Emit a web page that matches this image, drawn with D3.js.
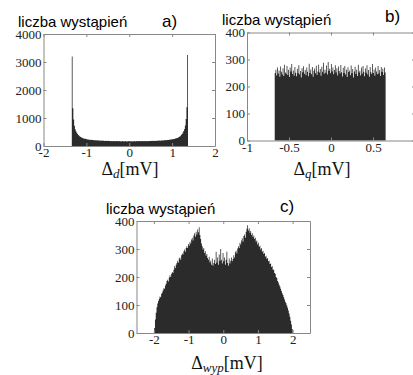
<!DOCTYPE html>
<html>
<head>
<meta charset="utf-8">
<script src="https://cdn.jsdelivr.net/npm/d3@7"></script>
<style>
  body { margin: 0; background: #fff; }
  svg { display: block; }
</style>
</head>
<body>
<div id="chart"></div>
<script>
// a) histogram of delta_d, counts per bin over aBinRange
const aBinRange = [-1.34, 1.37];
const aCounts = [
  3200, 1350, 950, 720, 600, 530, 470, 430, 395, 365,
  340, 325, 302, 295, 278, 272, 259, 257, 246, 243,
  235, 233, 226, 224, 215, 219, 210, 214, 205, 208,
  201, 206, 195, 201, 192, 198, 189, 195, 186, 193,
  184, 190, 181, 188, 178, 186, 176, 184, 175, 182,
  172, 181, 170, 180, 169, 178, 168, 179, 167, 177,
  166, 176, 165, 177, 164, 175, 166, 174, 163, 176,
  165, 173, 164, 175, 166, 172, 163, 176, 165, 174,
  166, 177, 165, 175, 167, 178, 166, 176, 168, 177,
  167, 178, 169, 177, 168, 179, 170, 180, 171, 181,
  175, 183, 176, 185, 178, 187, 180, 189, 182, 191,
  184, 193, 187, 196, 190, 199, 194, 203, 198, 207,
  202, 211, 207, 216, 212, 222, 219, 228, 229, 238,
  239, 250, 252, 264, 268, 283, 290, 306, 320, 342,
  368, 398, 432, 478, 535, 610, 730, 960, 1380, 3250
];
const aXTicks = [-2, -1, 0, 1, 2];
const aYTicks = [0, 1000, 2000, 3000, 4000];

// b) histogram of delta_q
const bBinRange = [-0.67, 0.65];
const bCounts = [
  250, 262, 241, 270, 248, 259, 236, 274, 255, 244,
  268, 239, 281, 252, 247, 276, 243, 262, 235, 270,
  256, 283, 246, 259, 240, 272, 251, 238, 266, 249,
  279, 244, 257, 233, 268, 253, 275, 247, 261, 242,
  270, 255, 238, 284, 250, 263, 245, 272, 236, 258,
  267, 249, 277, 243, 256, 281, 252, 265, 240, 273,
  255, 288, 247, 262, 251, 278, 244, 291, 258, 266,
  249, 283, 256, 270, 245, 261, 279, 252, 268, 241,
  274, 257, 248, 280, 253, 237, 269, 250, 276, 244,
  262, 235, 271, 254, 259, 242, 278, 249, 265, 233,
  256, 273, 246, 262, 239, 281, 252, 258, 241, 270,
  247, 276, 255, 238, 267, 251, 279, 244, 261, 236,
  272, 253, 246, 283, 250, 263, 240, 270, 256, 245,
  276, 248, 261, 239, 272, 254, 266, 243, 270, 252
];
const bXTicks = [-1, -0.5, 0, 0.5, 1];
const bYTicks = [0, 100, 200, 300, 400];

// c) histogram of delta_wyp
const cBinRange = [-1.99, 2.0];
const cCounts = [
  18, 48, 72, 92, 105, 114, 122, 130, 128, 140,
  145, 152, 160, 158, 170, 176, 186, 190, 184, 198,
  206, 200, 212, 218, 214, 226, 238, 232, 244, 250,
  258, 252, 266, 270, 262, 278, 284, 280, 292, 298,
  290, 304, 310, 304, 318, 312, 326, 320, 334, 340,
  330, 348, 356, 344, 362, 352, 370, 360, 378, 350,
  336, 320, 310, 298, 304, 286, 292, 276, 282, 268,
  262, 272, 252, 258, 244, 266, 240, 250, 262, 246,
  290, 252, 270, 244, 280, 258, 300, 262, 248, 286,
  256, 270, 244, 262, 290, 250, 240, 266, 248, 258,
  270, 256, 264, 278, 270, 288, 294, 284, 302, 310,
  304, 322, 316, 330, 338, 326, 346, 352, 340, 362,
  372, 385, 366, 374, 358, 364, 350, 356, 342, 348,
  336, 340, 326, 330, 316, 322, 308, 312, 298, 304,
  290, 294, 282, 286, 272, 276, 264, 268, 256, 258,
  246, 248, 236, 238, 226, 226, 214, 212, 200, 196,
  186, 180, 172, 166, 158, 150, 142, 136, 128, 120,
  112, 106, 98, 90, 80, 70, 58, 44, 30, 14
];
const cXTicks = [-2, -1, 0, 1, 2];
const cYTicks = [0, 100, 200, 300, 400];

const yTitle = 'liczba wystąpień';
const panelLabels = ['a)', 'b)', 'c)'];
const axisSubs = ['d', 'q', 'wyp'];

let w = 413;
let h = 375;
let svg = d3.select('#chart').append('svg').attr('width', w).attr('height', h);
svg.append('rect').attr('width', w).attr('height', h).attr('fill', '#fff');

let serif = '"Liberation Serif", "Times New Roman", "DejaVu Serif", serif';
let sans = '"Liberation Sans", Arial, sans-serif';

function drawPanel(p) {
  let x = d3.scaleLinear().domain(p.xDomain).range(p.xRange);
  let y = d3.scaleLinear().domain(p.yDomain).range(p.yRange);
  let n = p.counts.length;
  let bw = (p.bins[1] - p.bins[0]) / n;

  let pts = p.counts.map((c, i) => [p.bins[0] + i * bw, c]);
  pts.push([p.bins[1], p.counts[n - 1]]);

  let area = d3.area()
    .curve(d3.curveStepAfter)
    .x(d => x(d[0]))
    .y0(y(0))
    .y1(d => y(d[1]));

  let g = svg.append('g');

  g.append('path')
    .datum(pts)
    .attr('d', area)
    .attr('fill', '#2b2b2b');

  // box with inward ticks
  let x0 = p.xRange[0], x1 = p.xRange[1];
  let yb = p.yRange[0], yt = p.yRange[1];

  let bottom = g.append('g').attr('transform', `translate(0, ${yb})`)
    .call(d3.axisBottom(x).tickValues(p.xTicks).tickSize(-3).tickSizeOuter(0).tickPadding(2)
      .tickFormat(d => String(d)));
  let left = g.append('g').attr('transform', `translate(${x0}, 0)`)
    .call(d3.axisLeft(y).tickValues(p.yTicks).tickSize(-3).tickSizeOuter(0).tickPadding(2)
      .tickFormat(d => String(d)));
  let top = g.append('g').attr('transform', `translate(0, ${yt})`)
    .call(d3.axisTop(x).tickValues(p.xTicks).tickSize(-3).tickSizeOuter(0).tickFormat(''));
  let right = g.append('g').attr('transform', `translate(${x1}, 0)`)
    .call(d3.axisRight(y).tickValues(p.yTicks).tickSize(-3).tickSizeOuter(0).tickFormat(''));

  [bottom, left, top, right].forEach(a => {
    a.attr('font-family', serif).attr('font-size', 13);
    a.selectAll('.domain').attr('stroke', '#888');
    a.selectAll('.tick line').attr('stroke', '#888');
    a.selectAll('text')
      .attr('font-family', serif)
      .attr('font-size', 13)
      .attr('fill', '#222');
  });

  // y title and panel letter
  g.append('text')
    .attr('x', p.titlePos[0])
    .attr('y', p.titlePos[1])
    .attr('font-family', sans)
    .attr('font-size', 15)
    .attr('fill', '#000')
    .text(yTitle);

  g.append('text')
    .attr('x', p.labelPos[0])
    .attr('y', p.labelPos[1])
    .attr('font-family', sans)
    .attr('font-size', 17)
    .attr('fill', '#000')
    .text(p.label);

  // x title: Delta_sub [mV]
  let xt = g.append('text')
    .attr('x', p.xTitlePos[0])
    .attr('y', p.xTitlePos[1])
    .attr('text-anchor', 'middle')
    .attr('font-family', serif)
    .attr('font-size', 18)
    .attr('fill', '#111');
  xt.append('tspan').text('Δ');
  xt.append('tspan')
    .attr('font-style', 'italic')
    .attr('font-size', 13)
    .attr('dy', 2.5)
    .text(p.sub);
  xt.append('tspan')
    .attr('dy', -2.5)
    .text('[mV]');
}

drawPanel({
  counts: aCounts, bins: aBinRange, xTicks: aXTicks, yTicks: aYTicks,
  xDomain: [-2, 2], xRange: [43.5, 215],
  yDomain: [0, 4000], yRange: [146, 34],
  titlePos: [18, 27], label: panelLabels[0], labelPos: [162, 27],
  sub: axisSubs[0], xTitlePos: [130, 175]
});

drawPanel({
  counts: bCounts, bins: bBinRange, xTicks: bXTicks, yTicks: bYTicks,
  xDomain: [-1, 1], xRange: [247, 415],
  yDomain: [0, 400], yRange: [140.5, 32.5],
  titlePos: [222, 25], label: panelLabels[1], labelPos: [385, 21.5],
  sub: axisSubs[1], xTitlePos: [322, 175]
});

drawPanel({
  counts: cCounts, bins: cBinRange, xTicks: cXTicks, yTicks: cYTicks,
  xDomain: [-2.5, 2.5], xRange: [136.5, 310],
  yDomain: [0, 400], yRange: [333, 221],
  titlePos: [106, 214], label: panelLabels[2], labelPos: [280, 212],
  sub: axisSubs[2], xTitlePos: [227, 369]
});
</script>
</body>
</html>
